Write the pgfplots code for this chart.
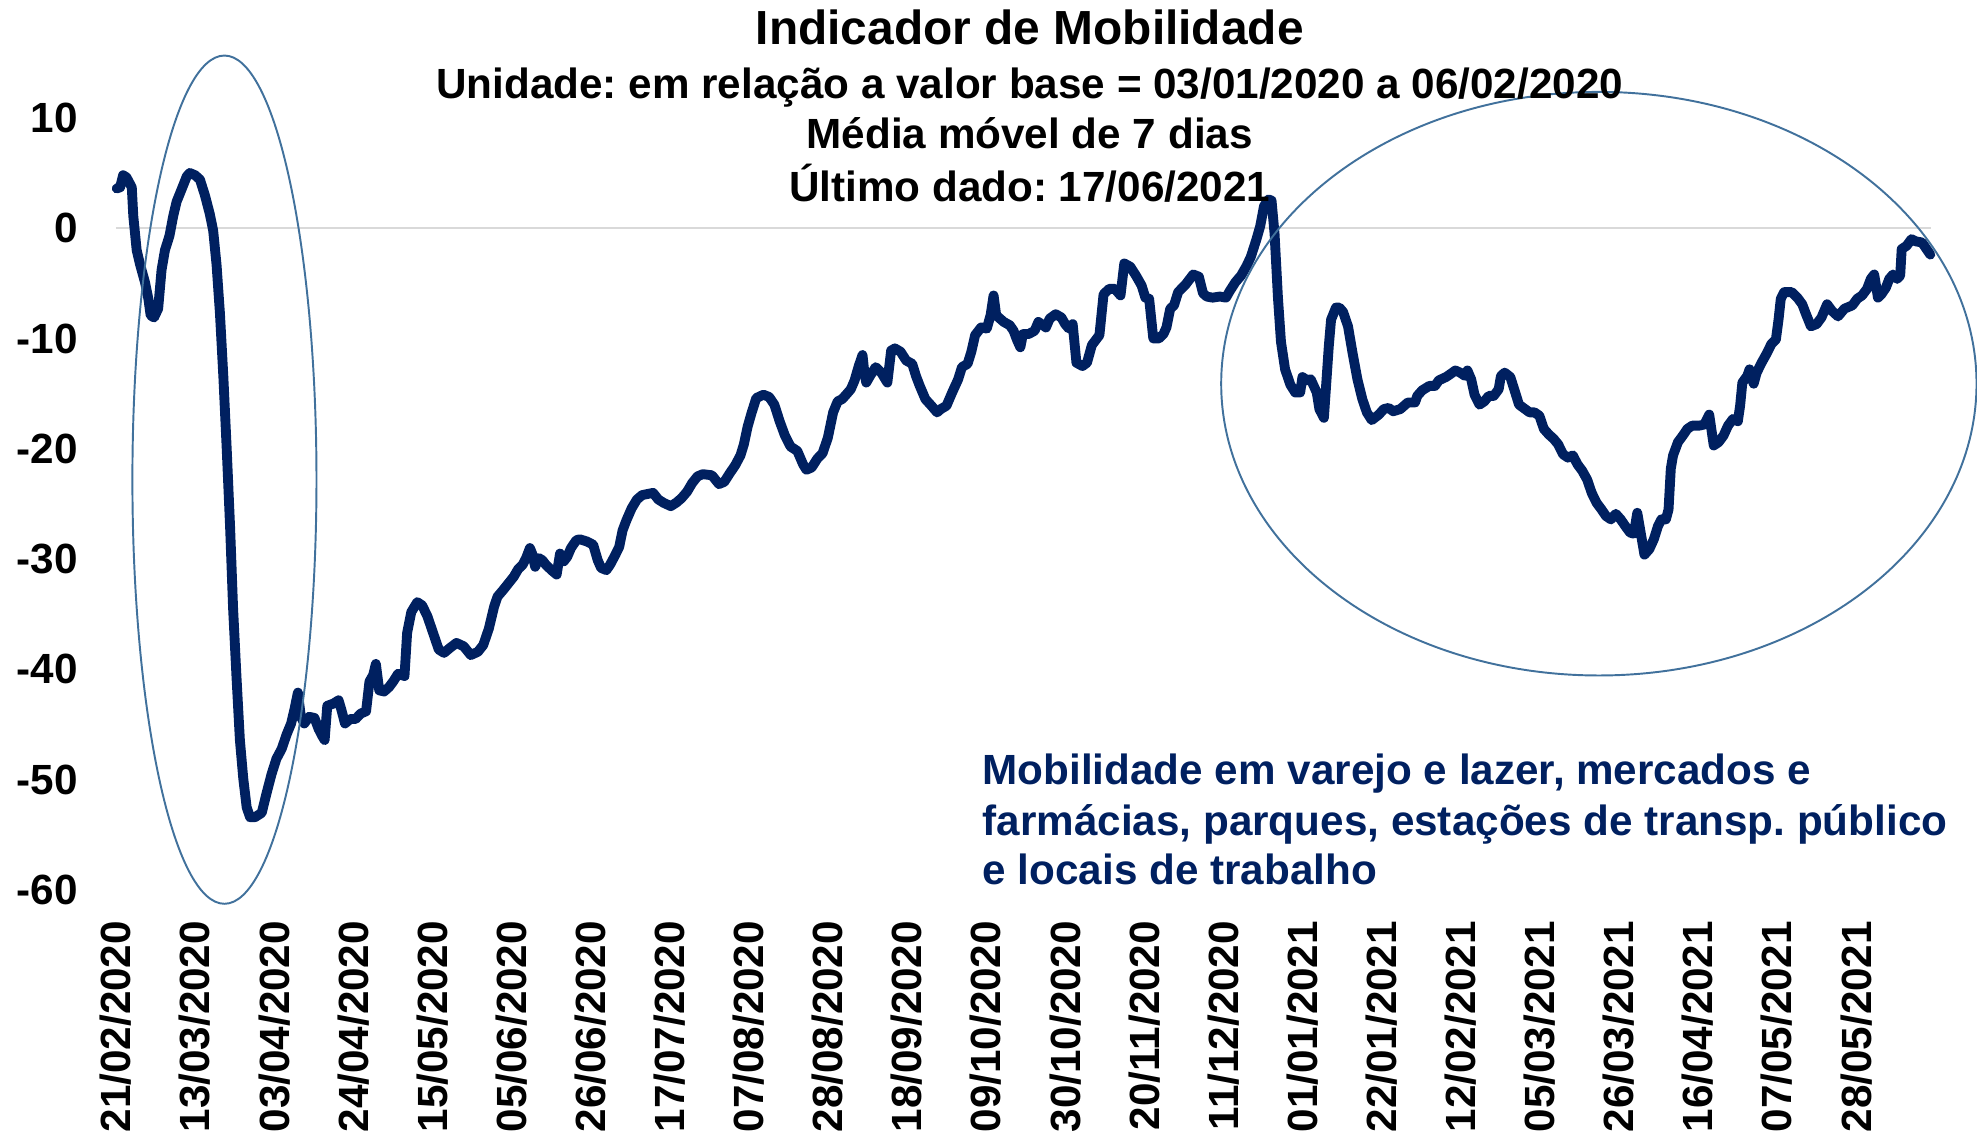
\documentclass[border=0pt]{standalone}
\usepackage{pgfplots}
\pgfplotsset{compat=1.18}
\usepackage{pgfplotstable}
\usepackage{fontspec}
\setmainfont{Liberation Sans}
\frenchspacing
\definecolor{navy}{HTML}{002060}
\definecolor{ellc}{HTML}{41719C}
\definecolor{gridc}{HTML}{D9D9D9}

\pgfplotstableread{
day val
0.2 3.6
1.1 3.7
1.9 4.8
2.8 4.6
4.2 3.7
4.6 1.1
5.5 -2.0
6.4 -3.3
7.7 -4.9
8.6 -6.4
9.2 -7.9
10.1 -8.1
11.2 -7.3
12.1 -3.8
13.0 -2.0
14.2 -0.7
15.2 1.1
16.1 2.4
17.4 3.5
18.8 4.7
19.6 5.0
21.0 4.8
22.3 4.4
23.6 3.0
24.9 1.3
25.8 -0.2
26.7 -3.3
27.6 -7.7
28.5 -13.4
29.4 -20.0
30.3 -27.1
31.1 -34.5
32.0 -40.7
32.9 -46.4
33.8 -49.9
34.7 -52.5
35.6 -53.4
36.9 -53.4
38.7 -53.0
40.0 -51.2
41.3 -49.5
42.6 -48.1
44.0 -47.2
45.3 -45.9
46.5 -44.9
47.4 -43.6
48.3 -42.1
49.1 -44.3
50.0 -44.9
51.3 -44.3
52.7 -44.4
53.8 -45.4
54.7 -46.0
55.4 -46.4
56.1 -43.3
57.7 -43.1
59.1 -42.8
59.8 -43.6
60.8 -44.9
62.2 -44.5
63.6 -44.5
65.0 -44.0
66.4 -43.8
67.3 -41.1
68.3 -40.5
69.0 -39.5
69.9 -41.9
71.2 -42.0
72.5 -41.6
73.6 -41.1
74.9 -40.4
76.6 -40.6
77.3 -36.7
78.4 -34.8
80.0 -33.9
81.3 -34.2
82.7 -35.2
84.3 -36.8
85.7 -38.2
87.1 -38.5
88.5 -38.1
90.4 -37.6
92.3 -37.9
94.2 -38.7
96.1 -38.4
97.5 -37.8
99.0 -36.3
100.4 -34.3
101.3 -33.4
102.8 -32.8
104.2 -32.2
105.6 -31.6
106.8 -30.9
108.0 -30.5
108.9 -29.9
109.9 -29.0
110.5 -29.5
111.3 -30.7
112.2 -29.9
113.2 -30.1
114.1 -30.5
115.6 -31.0
117.0 -31.4
117.9 -29.5
118.9 -30.2
119.8 -29.8
120.8 -29.0
122.2 -28.3
123.1 -28.2
125.0 -28.4
126.7 -28.7
127.9 -30.1
128.8 -30.8
130.2 -31.0
131.2 -30.5
132.6 -29.6
133.6 -28.9
134.5 -27.4
135.5 -26.5
136.9 -25.4
138.3 -24.6
139.7 -24.2
141.1 -24.1
142.6 -24.0
144.0 -24.6
145.4 -24.9
147.3 -25.2
148.7 -24.9
150.1 -24.5
151.6 -23.9
153.0 -23.1
154.4 -22.5
155.8 -22.3
158.2 -22.4
160.1 -23.2
161.5 -23.0
163.0 -22.2
164.4 -21.5
165.8 -20.6
166.7 -19.6
167.7 -18.0
168.7 -16.8
170.0 -15.4
171.9 -15.1
173.4 -15.3
174.8 -16.0
176.2 -17.5
177.6 -18.8
179.1 -19.8
180.9 -20.2
182.4 -21.4
183.3 -21.9
184.7 -21.7
186.2 -20.9
187.6 -20.4
189.0 -19.0
190.4 -16.7
191.6 -15.7
192.8 -15.5
194.1 -15.0
195.1 -14.6
196.1 -13.8
197.2 -12.5
198.2 -11.5
198.7 -13.1
199.2 -14.0
200.2 -13.4
201.7 -12.6
203.2 -13.1
204.8 -14.0
205.8 -11.1
206.8 -10.9
208.3 -11.2
209.8 -12.0
211.4 -12.3
212.4 -13.4
213.4 -14.3
214.9 -15.5
216.5 -16.1
218.0 -16.7
219.0 -16.4
220.5 -16.1
222.0 -14.9
223.6 -13.7
224.6 -12.6
226.1 -12.3
227.1 -11.2
228.1 -9.7
229.7 -9.0
231.2 -9.1
232.2 -7.9
233.0 -6.1
233.7 -7.9
235.7 -8.5
237.3 -8.8
238.3 -9.3
239.3 -10.2
240.1 -10.8
240.8 -9.6
242.3 -9.6
243.9 -9.3
244.9 -8.5
246.9 -9.0
247.9 -8.2
249.5 -7.8
251.0 -8.1
252.0 -8.7
253.0 -9.1
254.0 -8.7
255.0 -12.2
256.6 -12.5
257.8 -12.2
259.1 -10.6
261.1 -9.7
262.2 -6.0
263.7 -5.5
265.2 -5.5
266.7 -6.1
267.7 -3.2
269.3 -3.5
270.8 -4.3
272.3 -5.2
273.3 -6.3
274.3 -6.4
275.4 -10.0
276.9 -10.0
278.1 -9.6
278.9 -9.0
279.9 -7.3
280.9 -7.0
282.0 -5.8
284.0 -5.1
286.0 -4.2
287.5 -4.4
288.6 -5.9
289.6 -6.2
291.1 -6.3
293.1 -6.2
294.7 -6.3
295.7 -5.7
297.2 -4.9
298.7 -4.3
300.2 -3.4
301.3 -2.6
302.8 -1.0
303.8 0.2
304.8 2.0
306.0 2.6
306.8 2.5
307.6 -0.5
308.5 -6.3
309.3 -10.3
310.4 -12.8
311.8 -14.2
313.1 -14.9
314.4 -14.9
315.0 -13.5
316.3 -13.8
317.2 -13.7
318.8 -14.9
319.5 -16.4
320.7 -17.2
321.4 -13.7
322.0 -10.7
322.6 -8.3
323.9 -7.2
324.8 -7.2
325.8 -7.6
327.1 -8.9
328.3 -11.3
329.6 -13.7
330.9 -15.5
332.1 -16.7
333.4 -17.4
335.3 -16.9
336.6 -16.4
337.9 -16.3
339.1 -16.6
341.0 -16.4
343.0 -15.8
344.9 -15.8
345.5 -15.2
346.8 -14.7
348.7 -14.3
350.2 -14.3
351.2 -13.8
353.1 -13.5
354.4 -13.2
355.6 -12.9
356.9 -13.1
358.2 -13.4
358.8 -12.9
359.8 -13.7
360.7 -15.1
362.0 -16.0
363.3 -15.7
364.5 -15.2
365.8 -15.2
367.1 -14.6
367.7 -13.4
368.7 -13.1
370.2 -13.5
371.5 -14.9
372.5 -16.0
374.1 -16.4
375.3 -16.7
376.6 -16.7
377.9 -17.0
379.1 -18.2
380.4 -18.7
381.7 -19.1
382.9 -19.6
384.2 -20.5
385.5 -20.8
386.8 -20.6
388.0 -21.4
389.3 -22.0
390.6 -22.8
391.8 -24.0
393.1 -24.9
394.4 -25.5
395.6 -26.1
396.9 -26.4
398.2 -25.9
399.5 -26.4
400.7 -27.0
402.0 -27.6
403.0 -27.7
403.9 -25.8
404.8 -27.6
405.8 -29.6
407.1 -29.1
408.3 -28.2
409.4 -27.0
410.3 -26.4
411.5 -26.4
412.2 -25.5
412.8 -21.8
413.4 -20.6
414.7 -19.4
416.0 -18.8
417.2 -18.2
418.5 -17.9
420.4 -17.9
421.7 -17.8
423.0 -16.9
424.2 -19.7
425.5 -19.4
426.8 -18.8
428.0 -17.9
429.3 -17.3
430.6 -17.5
431.2 -16.1
431.8 -14.0
433.1 -13.4
433.7 -12.8
434.8 -14.1
435.6 -13.1
436.9 -12.2
438.2 -11.4
439.5 -10.5
440.7 -10.1
441.4 -8.3
442.0 -6.4
442.9 -5.8
444.9 -5.8
446.4 -6.3
447.7 -6.9
448.7 -7.8
450.0 -8.9
451.5 -8.7
452.8 -8.1
453.8 -7.3
454.3 -6.9
455.6 -7.5
457.2 -8.0
458.9 -7.3
461.0 -7.0
462.3 -6.4
463.6 -6.1
464.9 -5.5
465.9 -4.6
466.8 -4.2
467.8 -6.3
468.7 -6.0
469.9 -5.4
470.8 -4.6
471.8 -4.2
472.9 -4.6
473.7 -4.3
474.1 -1.9
475.4 -1.6
476.7 -1.0
477.9 -1.2
479.5 -1.3
480.5 -1.8
481.7 -2.4
}\mob

\begin{document}
\begin{tikzpicture}[font=\bfseries]
\begin{axis}[
  name=ax, at={(0,0)}, anchor=south west,
  scale only axis, width=515.8pt, height=219.4pt,
  xmin=0, xmax=482, ymin=-60, ymax=10,
  axis line style={draw=none},
  major tick length=0pt,
  xtick={0,21,...,462},
  xticklabels={21/02/2020,13/03/2020,03/04/2020,24/04/2020,15/05/2020,05/06/2020,26/06/2020,17/07/2020,07/08/2020,28/08/2020,18/09/2020,09/10/2020,30/10/2020,20/11/2020,11/12/2020,01/01/2021,22/01/2021,12/02/2021,05/03/2021,26/03/2021,16/04/2021,07/05/2021,28/05/2021},
  ytick={-60,-50,-40,-30,-20,-10,0,10},
  yticklabels={-60,-50,-40,-30,-20,-10,0,10},
  xticklabel style={rotate=90, anchor=east, inner sep=0pt, font=\fontsize{12}{14}\selectfont\bfseries},
  yticklabel style={anchor=east, inner sep=0pt, font=\fontsize{12}{14}\selectfont\bfseries},
  xticklabel shift=8.6pt, yticklabel shift=10.7pt,
  clip=false,
]
\draw[gridc, line width=0.6pt] (axis cs:0,0) -- (axis cs:482,0);
\addplot[navy, line width=2.8pt, line join=round, line cap=round] table[x=day,y=val]{\mob};
\draw[ellc, line width=0.55pt] (axis cs:28.8,-22.8) ellipse [x radius=26.15pt, y radius=120.5pt];
\draw[ellc, line width=0.55pt] (axis cs:393.7,-14.1) ellipse [x radius=107.3pt, y radius=82.9pt];
\node[anchor=base, font=\fontsize{13.6}{16}\selectfont\bfseries] at (axis cs:242.6,16.69) {Indicador de Mobilidade};
\node[anchor=base, font=\fontsize{12}{14}\selectfont\bfseries] at (axis cs:242.6,11.77) {Unidade: em relação a valor base = 03/01/2020 a 06/02/2020};
\node[anchor=base, font=\fontsize{12}{14}\selectfont\bfseries] at (axis cs:242.6,7.2) {Média móvel de 7 dias};
\node[anchor=base, font=\fontsize{12}{14}\selectfont\bfseries] at (axis cs:242.6,2.4) {Último dado: 17/06/2021};
\node[anchor=base west, inner sep=0pt, navy, font=\fontsize{12}{14}\selectfont\bfseries] at (axis cs:229.9,-50.4) {Mobilidade em varejo e lazer, mercados e};
\node[anchor=base west, inner sep=0pt, navy, font=\fontsize{12}{14}\selectfont\bfseries] at (axis cs:229.9,-55.09) {farmácias, parques, estações de transp. público};
\node[anchor=base west, inner sep=0pt, navy, font=\fontsize{12}{14}\selectfont\bfseries] at (axis cs:229.9,-59.54) {e locais de trabalho};
\end{axis}
\pgfresetboundingbox
\path (ax.south west) ++(-32.95pt,-69.13pt) rectangle ++(561.7pt,322pt);
\end{tikzpicture}
\end{document}
